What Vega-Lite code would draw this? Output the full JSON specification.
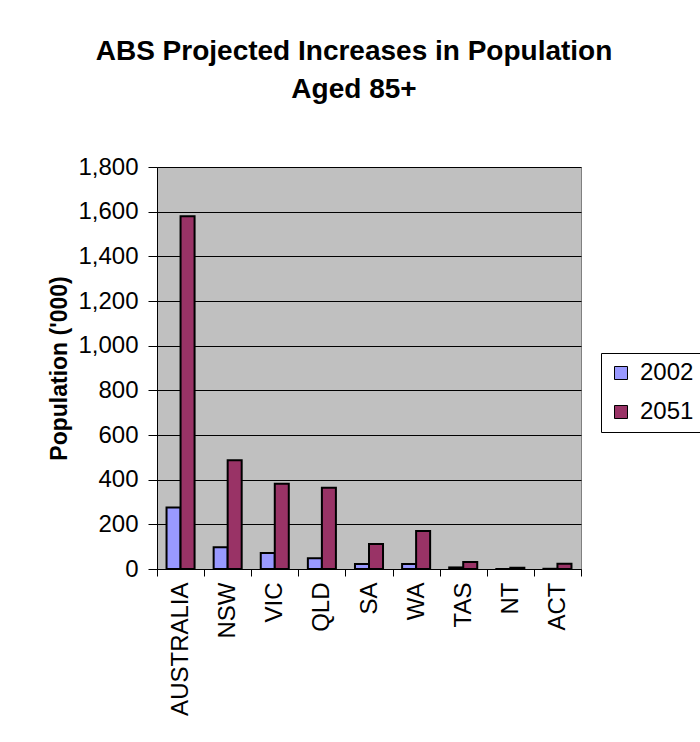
{
  "$schema": "https://vega.github.io/schema/vega-lite/v6.json",
  "autosize": {"type": "none"},
  "width": 424,
  "height": 402,
  "padding": {"left": 157, "top": 167, "right": 119, "bottom": 173},
  "background": "white",
  "config": {
    "font": "Liberation Sans",
    "view": {"fill": "#C0C0C0", "stroke": "#808080", "strokeWidth": 1}
  },
  "title": {
    "text": ["ABS Projected Increases in Population", "Aged 85+"],
    "fontSize": 28,
    "fontWeight": "bold",
    "font": "Liberation Sans",
    "color": "black",
    "anchor": "middle",
    "frame": "group",
    "dx": -15,
    "offset": 29,
    "lineHeight": 38,
    "baseline": "alphabetic"
  },
  "data": {
    "values": [
      {"region": "AUSTRALIA", "year": "2002", "population": 275},
      {"region": "AUSTRALIA", "year": "2051", "population": 1580},
      {"region": "NSW", "year": "2002", "population": 97},
      {"region": "NSW", "year": "2051", "population": 487},
      {"region": "VIC", "year": "2002", "population": 72},
      {"region": "VIC", "year": "2051", "population": 382},
      {"region": "QLD", "year": "2002", "population": 48},
      {"region": "QLD", "year": "2051", "population": 364},
      {"region": "SA", "year": "2002", "population": 22},
      {"region": "SA", "year": "2051", "population": 112},
      {"region": "WA", "year": "2002", "population": 22},
      {"region": "WA", "year": "2051", "population": 170},
      {"region": "TAS", "year": "2002", "population": 7},
      {"region": "TAS", "year": "2051", "population": 31},
      {"region": "NT", "year": "2002", "population": 0.5},
      {"region": "NT", "year": "2051", "population": 6},
      {"region": "ACT", "year": "2002", "population": 1},
      {"region": "ACT", "year": "2051", "population": 24}
    ]
  },
  "mark": {"type": "bar", "stroke": "black", "strokeWidth": 2, "opacity": 1},
  "encoding": {
    "x": {
      "field": "region",
      "type": "nominal",
      "sort": ["AUSTRALIA", "NSW", "VIC", "QLD", "SA", "WA", "TAS", "NT", "ACT"],
      "scale": {"paddingInner": 0, "paddingOuter": 0},
      "axis": {
        "title": null,
        "labelAngle": 270,
        "labelFontSize": 24,
        "labelColor": "black",
        "labelPadding": 6,
        "tickBand": "extent",
        "tickSize": 7,
        "tickColor": "black",
        "domainColor": "black",
        "grid": false
      }
    },
    "xOffset": {
      "field": "year",
      "type": "nominal",
      "scale": {"paddingInner": 0, "paddingOuter": 0.68}
    },
    "y": {
      "field": "population",
      "type": "quantitative",
      "scale": {"domain": [0, 1800], "nice": false},
      "axis": {
        "title": "Population ('000)",
        "titleFontSize": 23,
        "titleFontWeight": "bold",
        "titleColor": "black",
        "titlePadding": 6,
        "values": [0, 200, 400, 600, 800, 1000, 1200, 1400, 1600, 1800],
        "format": ",.0f",
        "labelFontSize": 24,
        "labelColor": "black",
        "labelPadding": 10,
        "tickSize": 9,
        "tickColor": "black",
        "domainColor": "black",
        "grid": true,
        "gridColor": "black",
        "gridOpacity": 1,
        "gridWidth": 1
      }
    },
    "color": {
      "field": "year",
      "type": "nominal",
      "scale": {"domain": ["2002", "2051"], "range": ["#9999FF", "#993366"]},
      "legend": {
        "title": null,
        "orient": "none",
        "legendX": 444,
        "legendY": 186,
        "strokeColor": "black",
        "fillColor": "white",
        "padding": 8,
        "symbolType": "square",
        "symbolSize": 169,
        "symbolStrokeColor": "black",
        "symbolStrokeWidth": 1,
        "symbolOpacity": 1,
        "labelFontSize": 24,
        "labelColor": "black",
        "labelOffset": 7,
        "rowPadding": 15
      }
    }
  }
}
